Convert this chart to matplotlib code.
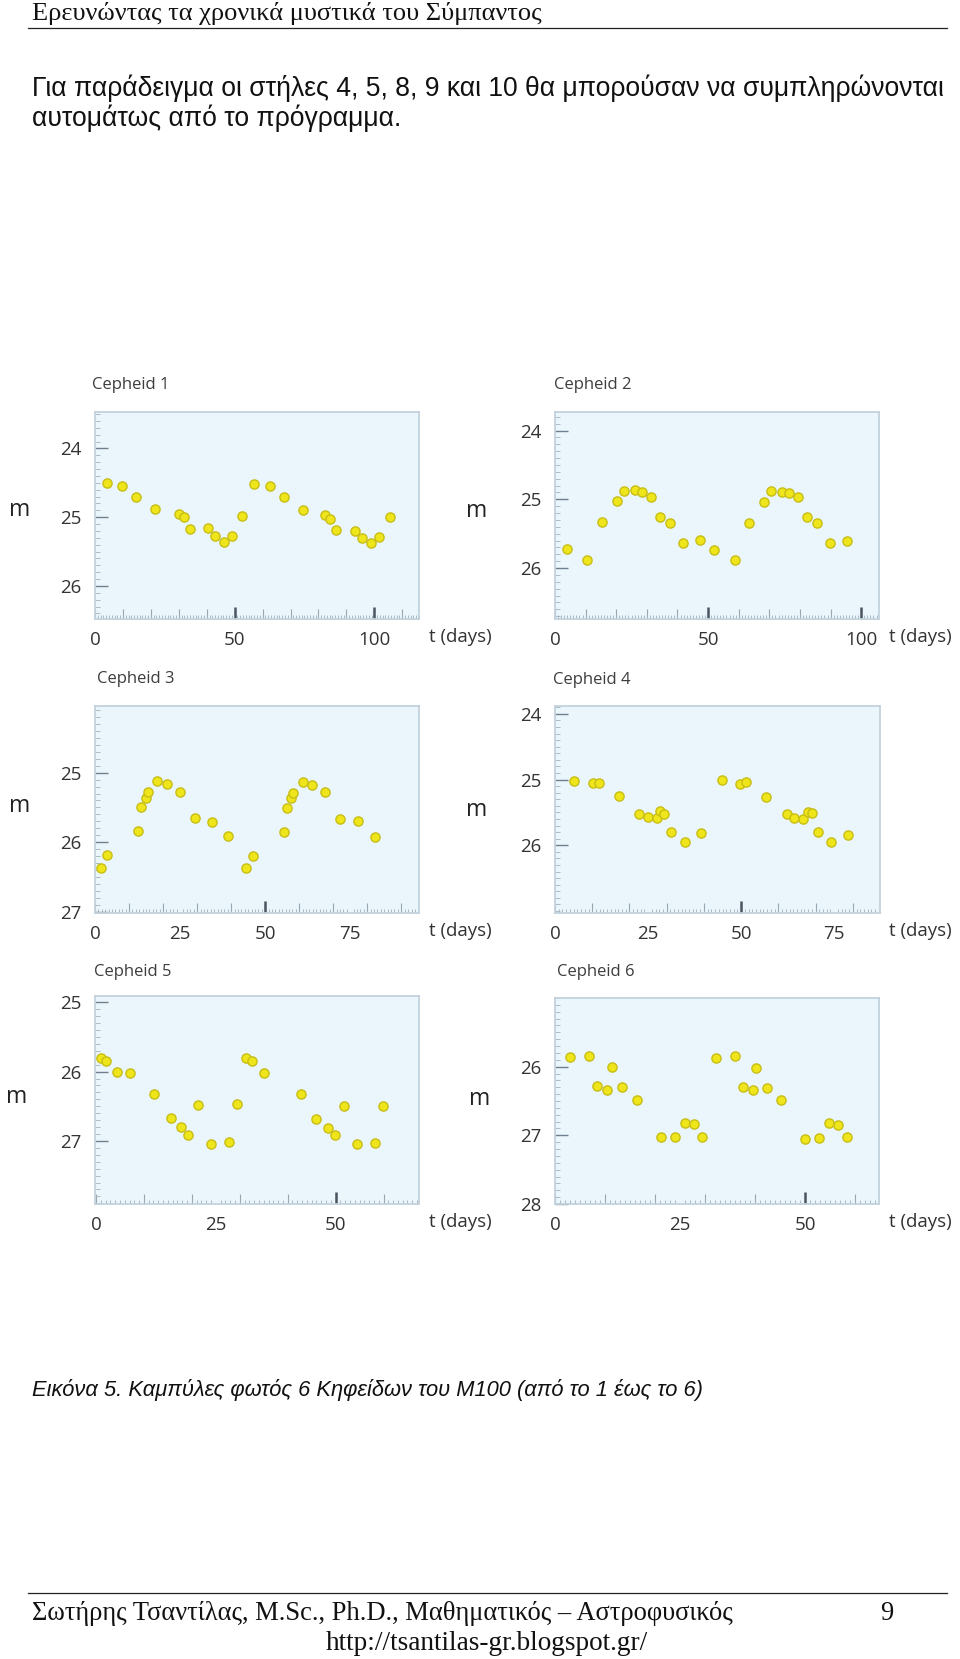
import matplotlib
matplotlib.use('Agg')
import matplotlib.pyplot as plt
from matplotlib.lines import Line2D
from matplotlib.ticker import MultipleLocator, FixedLocator, NullFormatter

W, H, DPI = 960, 1659, 100

# ---------------- data ----------------
titles = ["Cepheid 1", "Cepheid 2", "Cepheid 3", "Cepheid 4", "Cepheid 5", "Cepheid 6"]

c1_t = [4.2, 9.7, 14.7, 21.5, 29.9, 31.9, 33.9, 40.4, 42.8, 46.1, 49.0, 52.7,
        57.1, 62.7, 67.6, 74.4, 82.4, 84.3, 86.4, 93.2, 95.6, 98.9, 101.8, 105.5]
c1_m = [24.50, 24.54, 24.70, 24.88, 24.95, 25.00, 25.17, 25.16, 25.28, 25.36, 25.28, 24.98,
        24.51, 24.55, 24.71, 24.89, 24.97, 25.02, 25.19, 25.20, 25.30, 25.37, 25.29, 24.99]

c2_t = [4.0, 10.5, 15.5, 20.3, 22.5, 26.0, 28.4, 31.5, 34.2, 37.6, 41.9, 47.2,
        52.0, 58.7, 63.5, 68.4, 70.6, 74.1, 76.3, 79.5, 82.3, 85.7, 89.9, 95.4]
c2_m = [25.72, 25.88, 25.33, 25.03, 24.88, 24.87, 24.90, 24.97, 25.25, 25.34, 25.63, 25.59,
        25.73, 25.88, 25.34, 25.04, 24.88, 24.89, 24.91, 24.97, 25.25, 25.34, 25.64, 25.60]

c3_t = [1.7, 3.5, 12.6, 13.5, 15.0, 15.7, 18.3, 21.2, 24.9, 29.3, 34.3, 39.1,
        44.5, 46.5, 55.4, 56.5, 57.7, 58.3, 61.0, 63.9, 67.6, 71.9, 77.2, 82.2]
c3_m = [26.37, 26.19, 25.84, 25.50, 25.36, 25.28, 25.12, 25.17, 25.28, 25.65, 25.71, 25.91,
        26.37, 26.20, 25.85, 25.51, 25.37, 25.29, 25.13, 25.18, 25.28, 25.66, 25.70, 25.92]

c4_t = [5.0, 10.1, 11.8, 17.3, 22.6, 24.9, 27.3, 28.2, 29.4, 31.1, 34.8, 39.2,
        44.9, 49.6, 51.4, 56.8, 62.2, 64.2, 66.7, 68.0, 69.0, 70.7, 74.2, 78.8]
c4_m = [25.02, 25.05, 25.05, 25.25, 25.53, 25.57, 25.59, 25.48, 25.52, 25.80, 25.95, 25.82,
        25.01, 25.06, 25.04, 25.26, 25.53, 25.58, 25.60, 25.49, 25.51, 25.80, 25.95, 25.84]

c5_t = [1.0, 2.0, 4.4, 7.2, 12.2, 15.6, 17.7, 19.2, 21.3, 24.0, 27.8, 29.4,
        31.4, 32.5, 35.1, 42.7, 46.0, 48.4, 49.9, 51.7, 54.5, 58.3, 59.9]
c5_m = [25.80, 25.85, 26.00, 26.02, 26.32, 26.67, 26.80, 26.91, 26.48, 27.04, 27.01, 26.47,
        25.80, 25.85, 26.02, 26.33, 26.69, 26.82, 26.92, 26.49, 27.04, 27.03, 26.49]

c6_t = [3.0, 6.7, 8.4, 10.4, 11.3, 13.4, 16.3, 21.1, 23.9, 25.9, 27.7, 29.4,
        32.2, 35.9, 37.5, 39.5, 40.1, 42.3, 45.1, 50.0, 52.7, 54.8, 56.6, 58.3]
c6_m = [25.86, 25.84, 26.28, 26.34, 26.01, 26.30, 26.49, 27.03, 27.03, 26.82, 26.84, 27.02,
        25.88, 25.85, 26.30, 26.34, 26.02, 26.31, 26.49, 27.05, 27.04, 26.82, 26.85, 27.02]

xtick_labels_12 = [0, 50, 100]
xtick_labels_3456 = [0, 25, 50, 75]
xtick_labels_56 = [0, 25, 50]
ytick_labels_1 = [24, 25, 26]
ytick_labels_2 = [24, 25, 26]
ytick_labels_3 = [25, 26, 27]
ytick_labels_4 = [24, 25, 26]
ytick_labels_5 = [25, 26, 27]
ytick_labels_6 = [26, 27, 28]

header = "Ερευνώντας τα χρονικά μυστικά του Σύμπαντος"
body1 = "Για παράδειγμα οι στήλες 4, 5, 8, 9 και 10 θα μπορούσαν να συμπληρώνονται"
body2 = "αυτομάτως από το πρόγραμμα."
caption = "Εικόνα 5. Καμπύλες φωτός 6 Κηφείδων του Μ100 (από το 1 έως το 6)"
footer = "Σωτήρης Τσαντίλας, M.Sc., Ph.D., Μαθηματικός – Αστροφυσικός"
page_no = "9"
url = "http://tsantilas-gr.blogspot.gr/"

# ---------------- figure ----------------
fig = plt.figure(figsize=(W / DPI, H / DPI), dpi=DPI)
fig.patch.set_facecolor('white')
renderer = fig.canvas.get_renderer()


def fx(x):
    return x / W


def fy(y):
    return 1 - y / H


def add_text(x, y, s, size, target_w=None, ha='left', va='center', **kw):
    t = fig.text(fx(x), fy(y), s, fontsize=size, ha=ha, va=va, **kw)
    if target_w:
        w = t.get_window_extent(renderer).width
        t.set_fontsize(size * target_w / w)
    return t


# page text
add_text(32, 13.5, header, 16, target_w=510, family='Liberation Serif', color='#111111')
fig.add_artist(Line2D([fx(28), fx(947)], [fy(27.5), fy(27.5)], color='#222222', lw=0.9))
add_text(32, 88, body1, 16, target_w=910, family='Liberation Sans', color='#111111')
add_text(32, 118.5, body2, 16, target_w=368, family='Liberation Sans', color='#111111')
add_text(32, 1390, caption, 14, target_w=674, family='Liberation Sans', style='italic', color='#111111')
fig.add_artist(Line2D([fx(28), fx(947)], [fy(1593), fy(1593)], color='#222222', lw=0.9))
ft = add_text(32, 1613, footer, 16, target_w=704, family='Liberation Serif', color='#111111')
add_text(887, 1613, page_no, ft.get_fontsize(), ha='center', family='Liberation Serif', color='#111111')
add_text(487, 1643, url, ft.get_fontsize(), target_w=322, ha='center', family='Liberation Serif', color='#111111')

# ---------------- panels ----------------
FONT = 'Open Sans'
TXT = '#333333'
panels = [
    dict(t=c1_t, m=c1_m, title=titles[0], box=(95, 412, 419, 619), xlim=(0, 116), ylim=(26.48, 23.47),
         xl=xtick_labels_12, yl=ytick_labels_1, big=[50, 100], tpos=(92, 385), mpos=(20, 510), dpos=(460, 637)),
    dict(t=c2_t, m=c2_m, title=titles[1], box=(555, 412, 879, 619), xlim=(0, 105.8), ylim=(26.74, 23.73),
         xl=xtick_labels_12, yl=ytick_labels_2, big=[50, 100], tpos=(554, 385), mpos=(477, 511), dpos=(920, 637)),
    dict(t=c3_t, m=c3_m, title=titles[2], box=(95, 706, 419, 913), xlim=(0, 95.2), ylim=(27.02, 24.04),
         xl=xtick_labels_3456, yl=ytick_labels_3, big=[50], tpos=(97, 679), mpos=(20, 806), dpos=(460, 931)),
    dict(t=c4_t, m=c4_m, title=titles[3], box=(555, 706, 880, 913), xlim=(0, 87.3), ylim=(27.03, 23.88),
         xl=xtick_labels_3456, yl=ytick_labels_4, big=[50], tpos=(553, 680), mpos=(477, 810), dpos=(920, 931)),
    dict(t=c5_t, m=c5_m, title=titles[4], box=(95, 996, 419, 1204), xlim=(-0.2, 67.4), ylim=(27.91, 24.91),
         xl=xtick_labels_56, yl=ytick_labels_5, big=[50], tpos=(94, 972), mpos=(17, 1097), dpos=(460, 1222)),
    dict(t=c6_t, m=c6_m, title=titles[5], box=(555, 998, 879, 1204), xlim=(0, 64.7), ylim=(28.0, 25.0),
         xl=xtick_labels_56, yl=ytick_labels_6, big=[50], tpos=(557, 972), mpos=(480, 1099), dpos=(920, 1222)),
]

for p in panels:
    x0, y0, x1, y1 = p['box']
    ax = fig.add_axes([fx(x0), fy(y1), (x1 - x0) / W, (y1 - y0) / H])
    ax.set_facecolor('#eaf5fc')
    for s in ax.spines.values():
        s.set_color('#c3d2dc')
        s.set_linewidth(1.3)
    ax.plot(p['t'], p['m'], 'o', ms=6.6, mfc='#eee61a', mec='#c8be14', mew=1.0, zorder=3, clip_on=False)
    ax.set_xlim(*p['xlim'])
    ax.set_ylim(*p['ylim'])

    # x axis: labels only at label positions, ticks every 10 days and every day
    ax.xaxis.set_major_locator(FixedLocator(p['xl']))
    ax.set_xticklabels([str(v) for v in p['xl']])
    ax.xaxis.set_minor_locator(MultipleLocator(1))
    ax.tick_params(axis='x', which='major', direction='in', length=0, pad=8.5,
                   labelsize=13.5, labelcolor=TXT)
    ax.tick_params(axis='x', which='minor', direction='in', length=3.2, width=0.6, color='#9fb0bb')
    for lab in ax.get_xticklabels():
        lab.set_family(FONT)
        lab.set_fontweight('medium')

    sec = ax.secondary_xaxis('bottom')
    sec.spines['bottom'].set_visible(False)
    sec.xaxis.set_major_locator(MultipleLocator(10))
    sec.xaxis.set_major_formatter(NullFormatter())
    sec.tick_params(axis='x', which='major', direction='in', length=7.5, width=0.8, color='#98a8b3')

    sec2 = ax.secondary_xaxis('bottom')
    sec2.spines['bottom'].set_visible(False)
    sec2.xaxis.set_major_locator(FixedLocator(p['big']))
    sec2.xaxis.set_major_formatter(NullFormatter())
    sec2.tick_params(axis='x', which='major', direction='in', length=8.5, width=1.8, color='#4a5560')

    # y axis
    ax.yaxis.set_major_locator(FixedLocator(p['yl']))
    ax.set_yticklabels([str(v) for v in p['yl']])
    ax.yaxis.set_minor_locator(MultipleLocator(0.1))
    ax.tick_params(axis='y', which='major', direction='in', length=9, width=1.0, color='#6f808c',
                   pad=10, labelsize=13.5, labelcolor=TXT)
    ax.tick_params(axis='y', which='minor', direction='in', length=3.8, width=0.6, color='#a3b2bc')
    for lab in ax.get_yticklabels():
        lab.set_family(FONT)
        lab.set_fontweight('medium')

    add_text(p['tpos'][0], p['tpos'][1], p['title'], 12, family=FONT, color='#3d3d3d', fontweight='medium')
    add_text(p['mpos'][0], p['mpos'][1], 'm', 16.5, ha='center', family=FONT, color='#222222')
    add_text(p['dpos'][0], p['dpos'][1], 't (days)', 13.5, ha='center', family=FONT, color='#333333',
             fontweight='medium')

fig.savefig('out.png', dpi=DPI, facecolor='white')
